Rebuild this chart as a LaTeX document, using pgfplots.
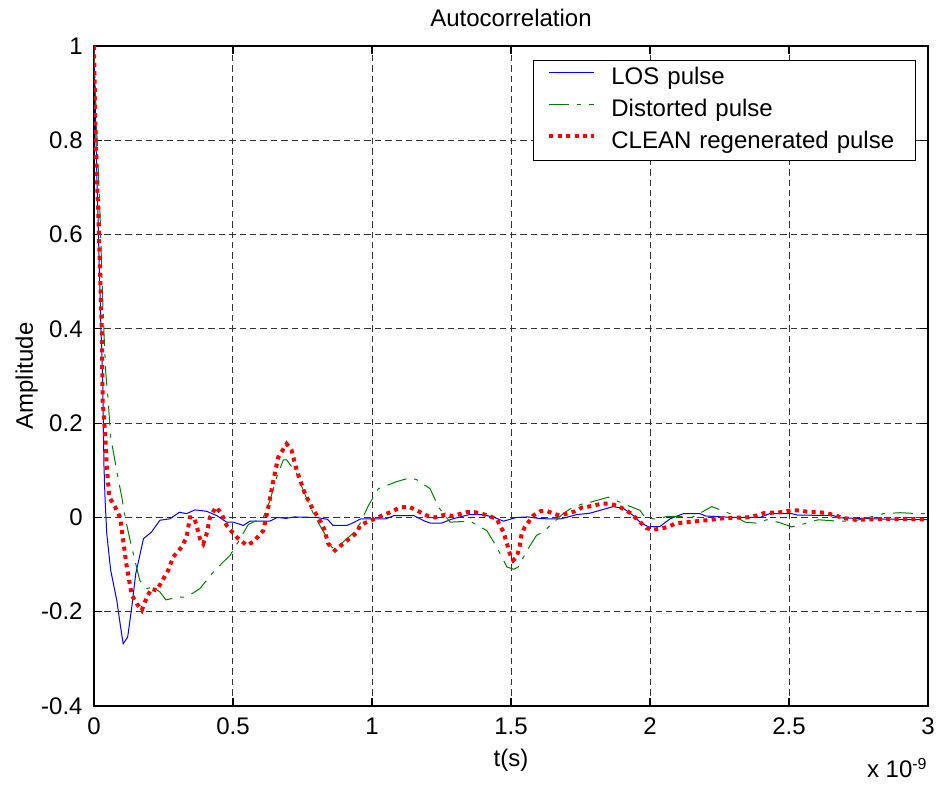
\documentclass[border=0pt]{standalone}
\usepackage{fontspec}
\setmainfont{Liberation Sans}
\usepackage{pgfplots}
\pgfplotsset{compat=1.18}
\definecolor{mgreen}{rgb}{0,0.5,0}
\begin{document}
\begin{tikzpicture}[font=\fontsize{12}{14.4}\selectfont]
\begin{axis}[
  name=ax,
  at={(0,0)}, anchor=south west,
  scale only axis, width=417pt, height=330pt,
  xmin=0, xmax=3, ymin=-0.4, ymax=1,
  xtick={0,0.5,1,1.5,2,2.5,3}, xticklabels={0,0.5,1,1.5,2,2.5,3},
  ytick={-0.4,-0.2,0,0.2,0.4,0.6,0.8,1},
  yticklabels={-0.4,-0.2,0,0.2,0.4,0.6,0.8,1},
  /pgf/number format/assume math mode=true,
  tick align=inside, major tick length=4pt, tick pos=both,
  xticklabel style={inner sep=0pt, text height=8.8pt, yshift=-5.5pt},
  yticklabel style={inner sep=0pt, xshift=-5.5pt},
  grid=major,
  major grid style={black!80, line width=0.5pt, dash pattern=on 3.2pt off 2pt},
  axis line style={line width=0.8pt},
  tick style={black, line width=0.6pt},
  legend cell align=left,
  legend style={at={(1,1)}, anchor=north east, xshift=-6pt, yshift=-7pt,
    draw=black, line width=0.6pt, inner xsep=7pt, inner ysep=3pt,
    row sep=4pt, column sep=7.5pt,
    nodes={inner sep=0pt, text height=9pt, text depth=3pt, text width=145pt, align=left}},
  legend image code/.code={\draw[#1] (0pt,3.2pt) -- (22.5pt,3.2pt);},
]
\addplot[blue, line width=0.5pt] coordinates {
(0,1) (0.007,0.8) (0.016,0.6) (0.025,0.4) (0.031,0.3) (0.034,0.18) (0.036,0.107)
(0.04,0.036) (0.046,-0.035) (0.06,-0.112) (0.082,-0.176) (0.095,-0.23) (0.105,-0.268)
(0.121,-0.254) (0.136,-0.19) (0.15,-0.12) (0.178,-0.045) (0.207,-0.031) (0.237,-0.006)
(0.273,-0.003) (0.307,0.011) (0.333,0.008) (0.363,0.016) (0.405,0.013) (0.441,0.004)
(0.477,-0.01) (0.501,-0.01) (0.537,-0.017) (0.561,-0.008) (0.633,-0.008) (0.66,0.0)
(0.69,-0.002) (0.72,0.001) (0.80,0.0) (0.84,-0.004) (0.86,-0.017) (0.91,-0.017)
(0.93,-0.012) (0.96,-0.003) (1.05,-0.003) (1.08,0.004) (1.15,0.004) (1.19,-0.008)
(1.21,-0.012) (1.25,-0.012) (1.29,-0.003) (1.35,0.006) (1.40,0.006) (1.44,0.0)
(1.473,-0.008) (1.52,0.0) (1.56,0.001) (1.60,-0.002) (1.63,-0.003) (1.68,-0.003)
(1.736,0.006) (1.784,0.009) (1.82,0.015) (1.868,0.023) (1.905,0.019) (1.94,0.004)
(1.964,-0.01) (1.994,-0.02) (2.036,-0.019) (2.072,-0.003) (2.12,0.008) (2.18,0.008)
(2.2,0.003) (2.3,0.0) (2.396,0.0) (2.43,0.008) (2.51,0.008) (2.53,0.005) (2.66,0.004)
(2.68,-0.001) (2.8,-0.003) (3.0,-0.005)
};
\addlegendentry{LOS pulse}
\addplot[mgreen, line width=0.5pt, dash pattern=on 10pt off 4pt on 2pt off 4pt] coordinates {
(0,1) (0.008,0.85) (0.016,0.73) (0.022,0.64) (0.028,0.52) (0.036,0.39) (0.042,0.31)
(0.051,0.248) (0.06,0.17) (0.087,0.082) (0.1,0.043) (0.112,0.0) (0.13,-0.049)
(0.147,-0.091) (0.165,-0.134) (0.19,-0.151) (0.213,-0.148) (0.237,-0.158) (0.259,-0.175)
(0.3,-0.169) (0.333,-0.169) (0.381,-0.151) (0.429,-0.116) (0.471,-0.091) (0.489,-0.081)
(0.519,-0.052) (0.555,-0.015) (0.609,0.0) (0.633,0.036) (0.657,0.085) (0.681,0.122)
(0.693,0.122) (0.729,0.093) (0.753,0.057) (0.789,0.008) (0.819,-0.024) (0.837,-0.042)
(0.855,-0.063) (0.87,-0.068) (0.9,-0.05) (0.93,-0.035) (0.957,-0.013) (0.987,0.025)
(1.023,0.061) (1.089,0.076) (1.137,0.084) (1.161,0.08) (1.209,0.061) (1.239,0.022)
(1.281,-0.01) (1.353,-0.008) (1.413,-0.028) (1.449,-0.063) (1.485,-0.105) (1.51,-0.11)
(1.526,-0.105) (1.562,-0.066) (1.592,-0.038) (1.616,-0.031) (1.658,-0.008) (1.688,0.008)
(1.718,0.02) (1.772,0.032) (1.784,0.032) (1.85,0.043) (1.905,0.029) (1.964,0.015)
(1.982,0.0) (2.024,-0.004) (2.06,0.002) (2.1,0.002) (2.15,0.0) (2.18,0.009) (2.222,0.023)
(2.288,0.008) (2.342,-0.01) (2.38,-0.012) (2.42,-0.005) (2.46,-0.01) (2.51,-0.02)
(2.546,-0.015) (2.605,-0.005) (2.68,-0.008) (2.73,-0.008) (2.815,0.004) (2.84,0.008)
(2.9,0.01) (2.966,0.008) (3.0,0.008)
};
\addlegendentry{Distorted pulse}
\addplot[red, line width=2pt, dash pattern=on 2pt off 2.2pt] coordinates {
(0,1) (0.006,0.8) (0.018,0.6) (0.028,0.4) (0.031,0.248) (0.04,0.178) (0.046,0.107)
(0.055,0.043) (0.076,0.022) (0.094,0.0) (0.105,-0.049) (0.118,-0.105) (0.136,-0.165)
(0.154,-0.183) (0.172,-0.197) (0.19,-0.169) (0.207,-0.151) (0.225,-0.155) (0.243,-0.137)
(0.267,-0.112) (0.285,-0.084) (0.315,-0.063) (0.333,-0.042) (0.345,0.0) (0.36,0.0)
(0.369,-0.017) (0.381,-0.045) (0.393,-0.056) (0.405,-0.035) (0.417,0.0) (0.439,0.022)
(0.459,0.008) (0.477,-0.017) (0.513,-0.042) (0.549,-0.059) (0.573,-0.052) (0.609,-0.028)
(0.627,0.022) (0.645,0.078) (0.663,0.128) (0.693,0.156) (0.711,0.142) (0.729,0.1)
(0.759,0.05) (0.789,0.015) (0.807,0.0) (0.825,-0.02) (0.843,-0.056) (0.867,-0.07)
(0.903,-0.052) (0.945,-0.033) (0.957,-0.017) (0.981,-0.01) (1.029,0.002) (1.065,0.011)
(1.101,0.021) (1.131,0.023) (1.161,0.015) (1.197,0.004) (1.227,0.0) (1.263,0.006)
(1.29,0.003) (1.34,0.011) (1.37,0.011) (1.395,0.008) (1.449,-0.003) (1.46,-0.017)
(1.473,-0.031) (1.487,-0.059) (1.496,-0.077) (1.508,-0.091) (1.52,-0.084) (1.53,-0.066)
(1.538,-0.035) (1.55,-0.02) (1.58,0.004) (1.604,0.013) (1.628,0.014) (1.652,0.008)
(1.676,0.004) (1.70,0.008) (1.73,0.013) (1.755,0.021) (1.78,0.023) (1.826,0.029)
(1.856,0.029) (1.88,0.025) (1.905,0.018) (1.93,0.009) (1.952,-0.003) (1.97,-0.013)
(1.988,-0.023) (2.012,-0.026) (2.036,-0.024) (2.066,-0.02) (2.09,-0.013) (2.13,-0.01)
(2.17,-0.008) (2.22,-0.005) (2.276,-0.001) (2.35,0.0) (2.384,0.004) (2.41,0.009)
(2.47,0.011) (2.51,0.015) (2.53,0.015) (2.58,0.011) (2.61,0.011) (2.64,0.008)
(2.67,0.004) (2.69,-0.001) (2.74,-0.005) (2.85,-0.003) (2.93,-0.003) (3.0,-0.005)
};
\addlegendentry{CLEAN regenerated pulse}
\end{axis}
\path (ax.north) ++(0,9.5pt) node[anchor=base] {Autocorrelation};
\path (ax.south) ++(0,-30.5pt) node[anchor=base] {t(s)};
\path (ax.west) ++(-30.5pt,0) node[rotate=90, anchor=base] {Amplitude};
\path (ax.south east) ++(0,-36pt) node[anchor=base east, inner sep=0pt] {x 10\textsuperscript{-9}};
\pgfresetboundingbox
\useasboundingbox (-47pt,-39.5pt) rectangle (422pt,353pt);
\end{tikzpicture}
\end{document}
